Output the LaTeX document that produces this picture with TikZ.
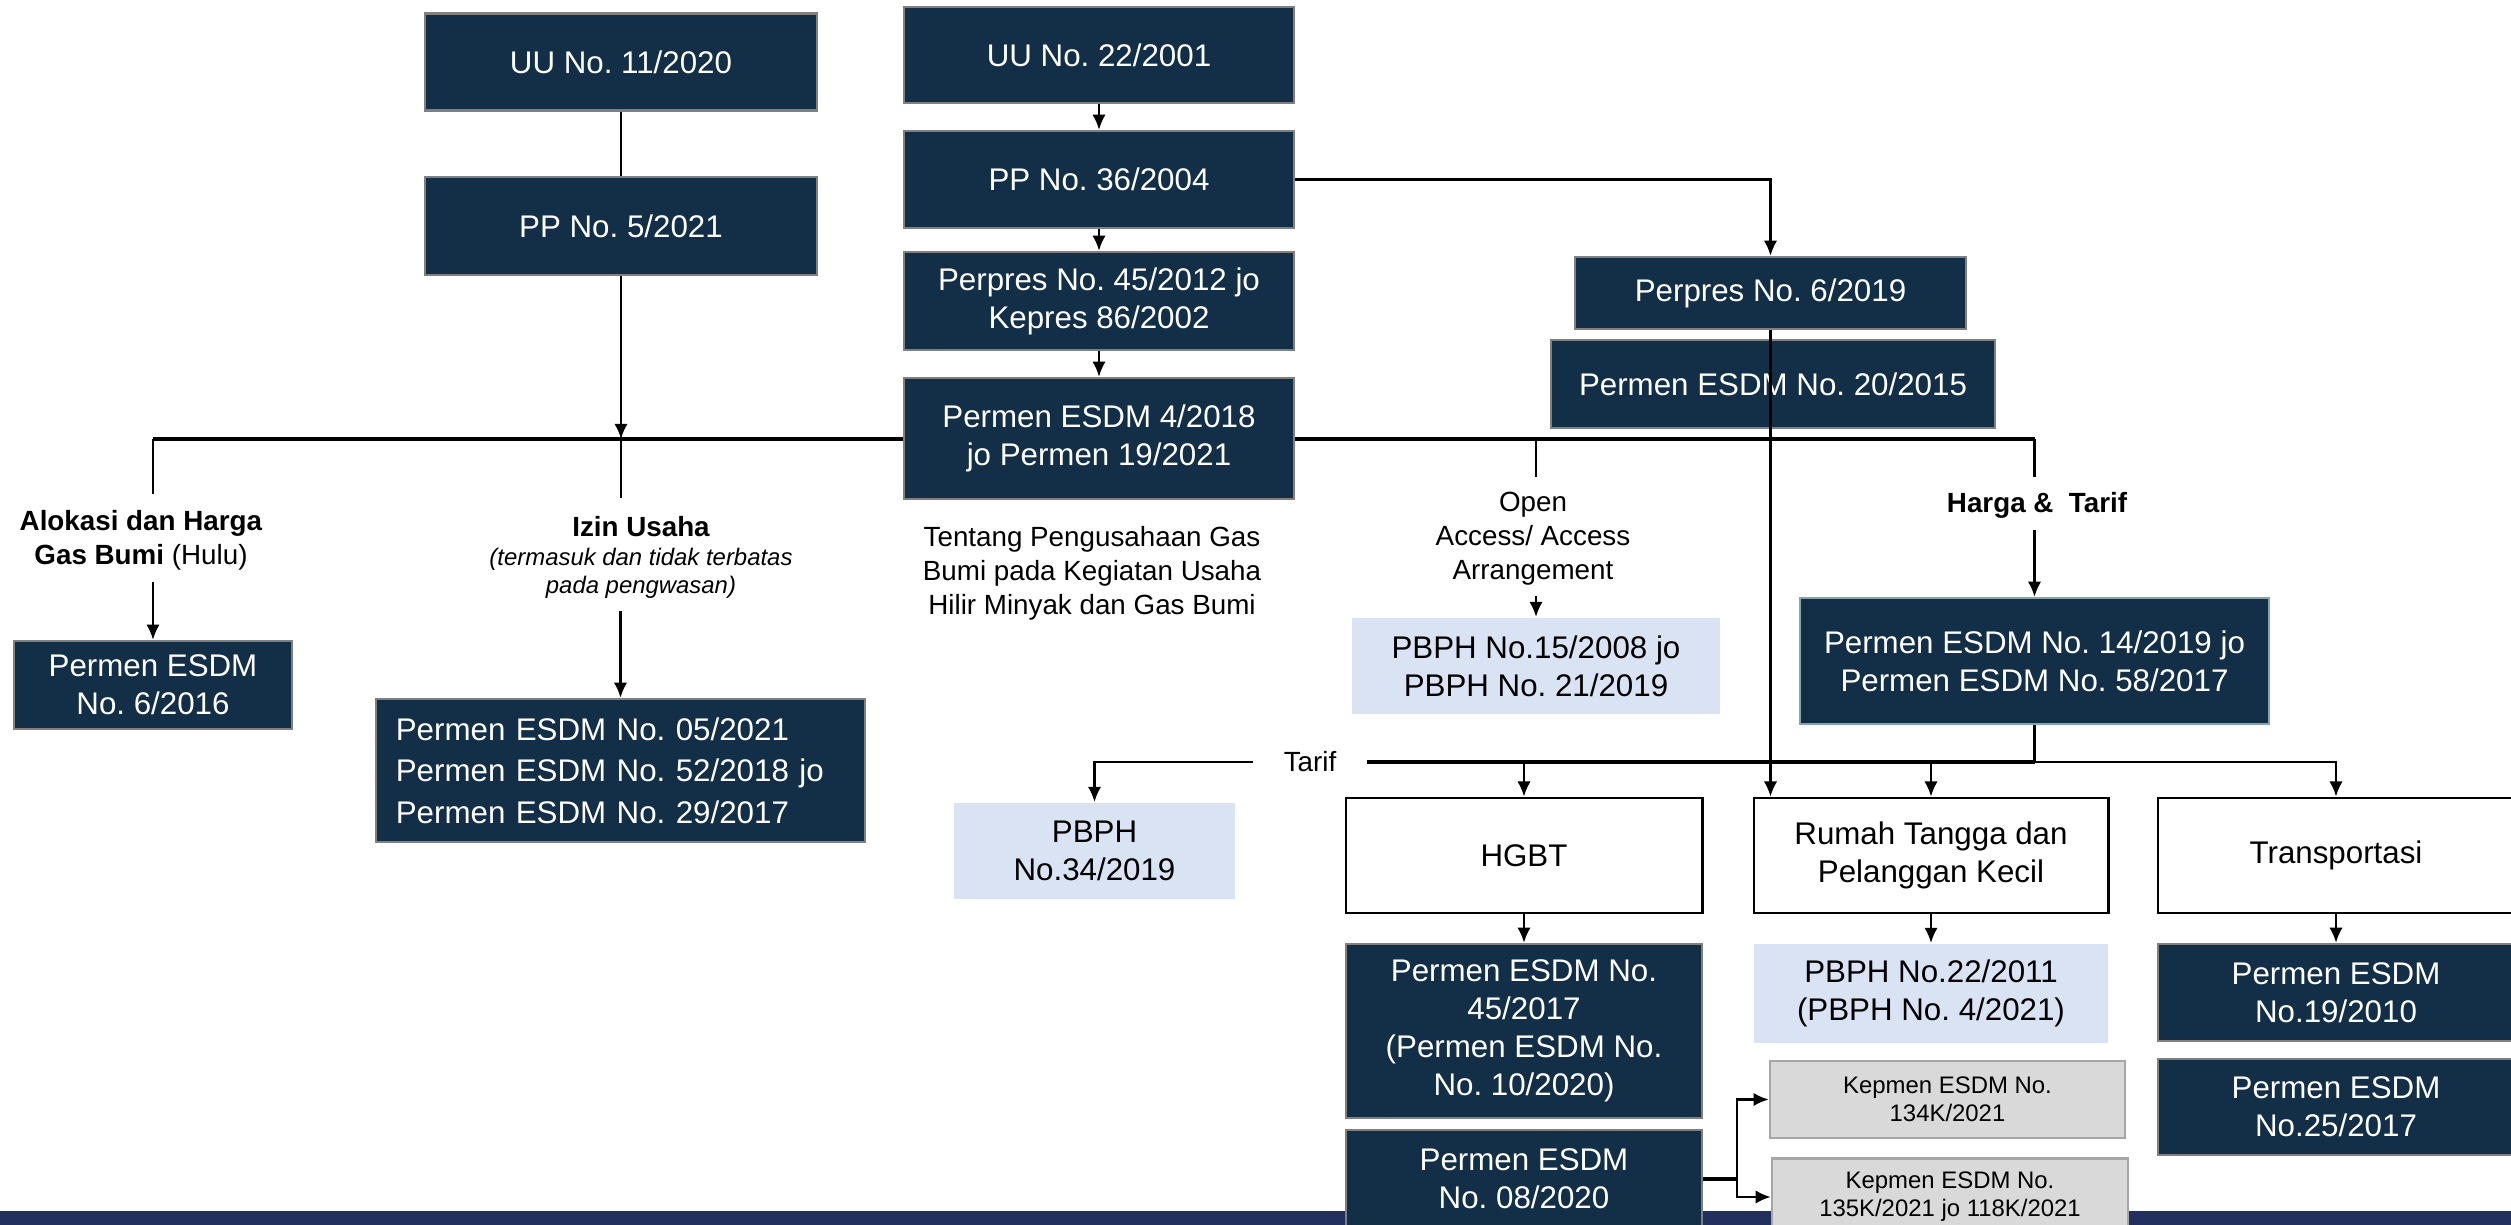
\documentclass[tikz,border=0pt]{standalone}
\usepackage{fontspec}
\setmainfont{Liberation Sans}
\frenchspacing
\usetikzlibrary{arrows.meta,backgrounds}
\definecolor{navyfill}{RGB}{18,47,71}
\definecolor{navyedge}{RGB}{128,128,128}
\definecolor{tealedge}{RGB}{135,163,172}
\definecolor{paleblue}{RGB}{218,227,243}
\definecolor{palegray}{RGB}{217,217,217}
\definecolor{bandblue}{RGB}{34,48,96}
\begin{document}
\begin{tikzpicture}[x=0.01cm, y=-0.01cm, >={Latex[length=4.3pt,width=3.8pt]}, line width=0.6pt,
    lawbox/.style={fill=navyfill, draw=navyedge, line width=0.7pt, text=white, align=center, inner sep=0pt, font=\fontsize{8.9}{10.8}\selectfont},
    pbphbox/.style={fill=paleblue, align=center, inner sep=0pt, font=\fontsize{8.9}{10.8}\selectfont},
    catbox/.style={draw=black, line width=0.8pt, align=center, inner sep=0pt, font=\fontsize{8.9}{10.8}\selectfont},
    kepbox/.style={fill=palegray, draw=black!35, line width=0.7pt, align=center, inner sep=0pt, font=\fontsize{6.8}{8}\selectfont},
    note/.style={align=center, inner sep=0pt, font=\fontsize{7.9}{9.7}\selectfont},
    bus/.style={line width=0.9pt}]
    \useasboundingbox (0,0) rectangle (2511,1225);
    \node[lawbox, minimum width=3.92cm, minimum height=0.97cm] (uu11) at (621,62) {UU No. 11/2020};
    \node[lawbox, minimum width=3.92cm, minimum height=0.98cm] (pp5) at (621,226) {PP No. 5/2021};
    \node[lawbox, minimum width=3.90cm, minimum height=0.96cm] (uu22) at (1099,55) {UU No. 22/2001};
    \node[lawbox, minimum width=3.90cm, minimum height=0.97cm] (pp36) at (1099,179.5) {PP No. 36/2004};
    \node[lawbox, minimum width=3.90cm, minimum height=0.98cm] (perpres45) at (1099,301) {Perpres No. 45/2012 jo\\Kepres 86/2002};
    \node[lawbox, minimum width=3.90cm, minimum height=1.21cm] (permen4) at (1099,438.5) {Permen ESDM 4/2018\\jo Permen 19/2021};
    \node[lawbox, minimum width=3.91cm, minimum height=0.72cm] (perpres6) at (1770.5,293) {Perpres No. 6/2019};
    \node[lawbox, minimum width=4.44cm, minimum height=0.88cm] (permen20) at (1773,384) {Permen ESDM No. 20/2015};
    \node[lawbox, minimum width=2.78cm, minimum height=0.88cm] (permen6) at (153,685) {Permen ESDM\\No. 6/2016};
    \node[lawbox, align=left, text width=4.49cm, inner xsep=0.2cm, minimum height=1.43cm, font=\fontsize{8.9}{11.8}\selectfont] (permen05) at (620.5,770.5) {Permen ESDM No. 05/2021\\Permen ESDM No. 52/2018 jo\\Permen ESDM No. 29/2017};
    \node[pbphbox, minimum width=3.68cm, minimum height=0.96cm] (pbph15) at (1536,666) {PBPH No.15/2008 jo\\PBPH No. 21/2019};
    \node[lawbox, draw=tealedge, minimum width=4.69cm, minimum height=1.26cm] (permen14) at (2034.5,661) {Permen ESDM No. 14/2019 jo\\Permen ESDM No. 58/2017};
    \node[pbphbox, minimum width=2.81cm, minimum height=0.96cm] (pbph34) at (1094.5,851) {PBPH\\No.34/2019};
    \node[catbox, minimum width=3.56cm, minimum height=1.15cm] (hgbt) at (1524,855.5) {HGBT};
    \node[catbox, minimum width=3.54cm, minimum height=1.15cm] (rumah) at (1931,855.5) {Rumah Tangga dan\\Pelanggan Kecil};
    \node[catbox, minimum width=3.56cm, minimum height=1.15cm] (transp) at (2336,855.5) {Transportasi};
    \node[lawbox, minimum width=3.56cm, minimum height=1.74cm] (permen45) at (1524,1031) {Permen ESDM No.\\45/2017\\(Permen ESDM No.\\No. 10/2020)};
    \node[lawbox, minimum width=3.56cm, minimum height=0.98cm] (permen08) at (1524,1179) {Permen ESDM\\No. 08/2020};
    \node[pbphbox, minimum width=3.54cm, minimum height=0.99cm] (pbph22) at (1931,993.5) {PBPH No.22/2011\\(PBPH No. 4/2021)};
    \node[lawbox, minimum width=3.56cm, minimum height=0.97cm] (permen19) at (2336,992.5) {Permen ESDM\\No.19/2010};
    \node[lawbox, minimum width=3.56cm, minimum height=0.96cm] (permen25) at (2336,1107) {Permen ESDM\\No.25/2017};
    \node[kepbox, minimum width=3.55cm, minimum height=0.77cm] (kep134) at (1947.5,1099.5) {Kepmen ESDM No.\\134K/2021};
    \node[kepbox, minimum width=3.56cm, minimum height=0.77cm] (kep135) at (1950,1197) {Kepmen ESDM No.\\135K/2021 jo 118K/2021};
    \node[note] (lblalok) at (141,540) {\textbf{Alokasi dan Harga}\\\textbf{Gas Bumi} (Hulu)};
    \node[note, font=\fontsize{7.9}{9.7}\selectfont\bfseries] (lblizin) at (641,527) {Izin Usaha};
    \node[note, font=\fontsize{6.8}{8}\selectfont\itshape] (lblizinsub) at (641,573) {(termasuk dan tidak terbatas\\pada pengwasan)};
    \node[note] (lbltentang) at (1092,573) {Tentang Pengusahaan Gas\\Bumi pada Kegiatan Usaha\\Hilir Minyak dan Gas Bumi};
    \node[note] (lblopen) at (1533,539) {Open\\Access/ Access\\Arrangement};
    \node[note, font=\fontsize{7.9}{9.7}\selectfont\bfseries] (lblharga) at (2037,505) {Harga \&\ \ Tarif};
    \node[note, inner xsep=0.3cm] (lbltarif) at (1310,762) {Tarif};
    \coordinate (busW) at (153,439);
    \coordinate (tarifE) at (permen14.south |- lbltarif);
    \begin{scope}[on background layer]
    \fill[bandblue] (0,1211) rectangle (2511,1230);
    \draw[bus] (busW) -- (permen14 |- busW);
    \end{scope}
    \draw (uu11) -- (pp5);
    \draw[->] (pp5) -- (pp5 |- busW);
    \draw[->] (uu22) -- (pp36);
    \draw[->] (pp36) -- (perpres45);
    \draw[->] (perpres45) -- (permen4);
    \draw[->] (pp36.east) -| (perpres6.north);
    \draw[->] (perpres6.south) -- (perpres6.south |- rumah.north);
    \draw (busW) -- ++(0,55);
    \draw[<-] (permen6.north) -- ++(0,-58);
    \draw (pp5 |- busW) -- ++(0,59);
    \draw[<-] (permen05.north) -- ++(0,-87);
    \draw (pbph15 |- busW) -- ++(0,38);
    \draw[<-] (pbph15.north) -- ++(0,-21);
    \draw (permen14 |- busW) -- ++(0,38);
    \draw[<-] (permen14.north) -- ++(0,-67);
    \draw (permen14.south) -- (tarifE);
    \draw[bus] (lbltarif.east) -- (tarifE);
    \draw[->] (tarifE) -| (transp.north);
    \draw[->] (lbltarif.west) -| (pbph34.north);
    \draw[->] (hgbt |- tarifE) -- (hgbt);
    \draw[->] (rumah |- tarifE) -- (rumah);
    \draw[->] (hgbt) -- (permen45);
    \draw[->] (rumah) -- (pbph22);
    \draw[->] (transp) -- (permen19);
    \draw[bus] (permen08.east) -- ++(34,0) coordinate (fork);
    \draw[->] (fork) |- (kep134);
    \draw[->] (fork) |- (kep135);
\end{tikzpicture}
\end{document}
